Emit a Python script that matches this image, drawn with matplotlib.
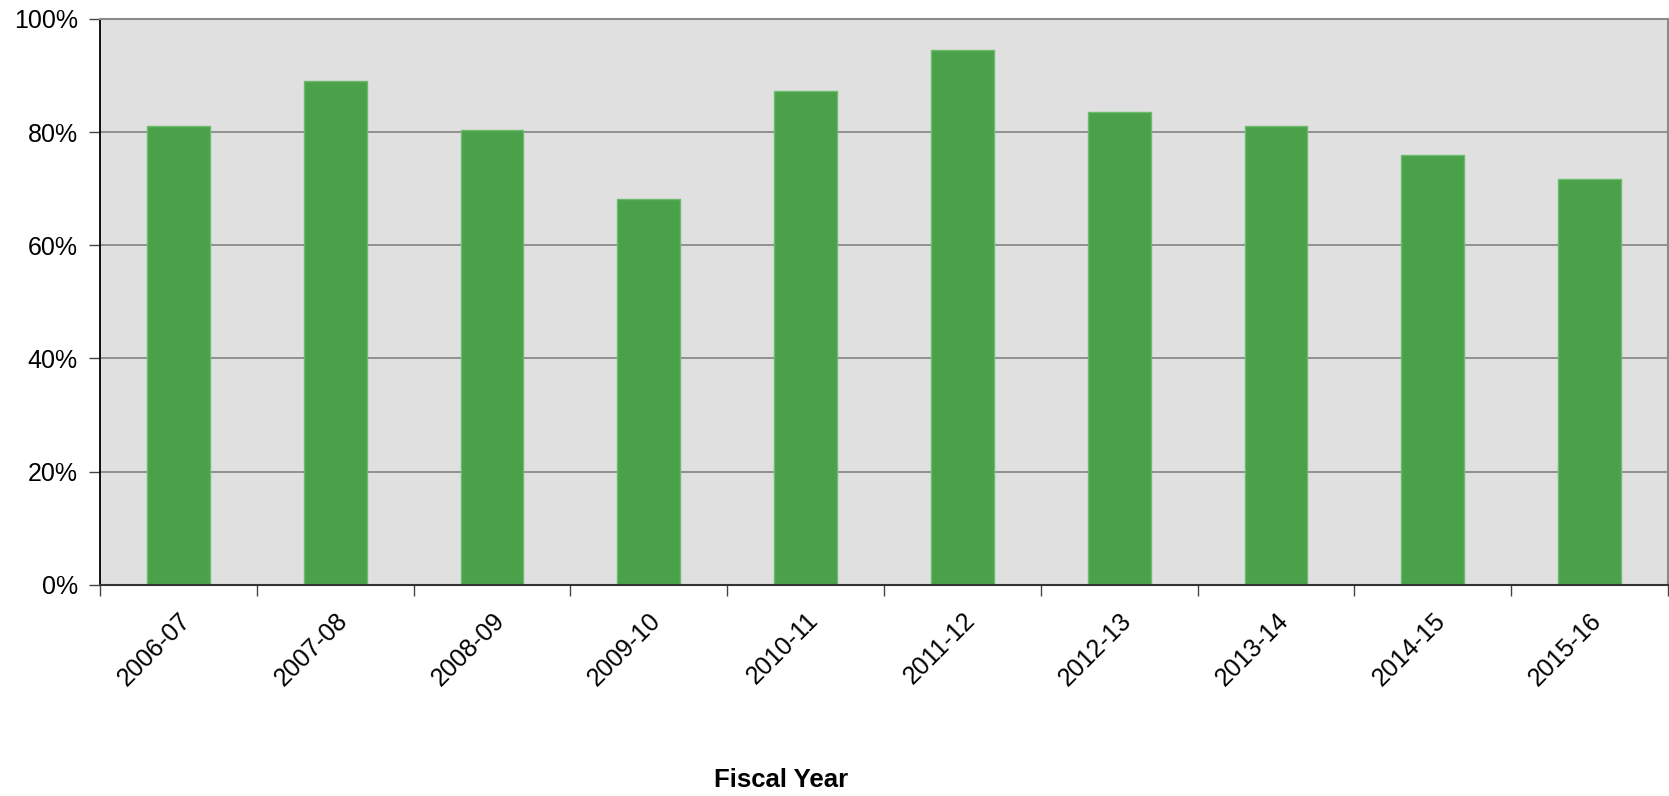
import matplotlib
matplotlib.use("Agg")
import matplotlib.pyplot as plt
from matplotlib.ticker import PercentFormatter, FixedLocator
import numpy as np

plt.rcParams['font.family'] = ['Liberation Sans', 'DejaVu Sans']

years = ["2006-07", "2007-08", "2008-09", "2009-10", "2010-11",
         "2011-12", "2012-13", "2013-14", "2014-15", "2015-16"]
values = [81.1, 89.1, 80.4, 68.1, 87.3, 94.6, 83.5, 81.1, 76.0, 71.7]
yticks = [0, 20, 40, 60, 80, 100]

fig = plt.figure(figsize=(16.69, 7.96), dpi=100)
ax = fig.add_axes([100/1669, 1-584.7/796, (1668-100)/1669, (584.7-19)/796])
ax.set_facecolor('#e0e0e0')

x = np.arange(len(years))
ax.bar(x, values, width=0.4, color='#4aa14a', edgecolor='#6dba6d', linewidth=1, zorder=3)

ax.set_xlim(-0.5, len(years) - 0.5)
ax.set_ylim(0, 100)
ax.set_yticks(yticks)
ax.yaxis.set_major_formatter(PercentFormatter(decimals=0))
ax.grid(axis='y', color='#8a8a8a', linewidth=1.3, zorder=1)

ax.set_xticks(x)
ax.set_xticklabels(years, rotation=45, ha='right', rotation_mode='anchor', fontsize=18)
ax.tick_params(axis='x', which='major', length=0, pad=17)
ax.xaxis.set_minor_locator(FixedLocator(np.arange(-0.5, len(years), 1.0)))
ax.tick_params(axis='x', which='minor', length=8, width=1, color='#444444', direction='out')
ax.tick_params(axis='y', length=8, width=1, color='#444444', labelsize=18, pad=8)

for s in ['top', 'right']:
    ax.spines[s].set_color('#8a8a8a')
    ax.spines[s].set_linewidth(1.5)
ax.spines['left'].set_color('#000000')
ax.spines['left'].set_linewidth(1.3)
ax.spines['bottom'].set_color('#333333')
ax.spines['bottom'].set_linewidth(1.5)
ax.spines['bottom'].set_zorder(4)

fig.text(781/1669, 1-780/796, "Fiscal Year", ha='center', va='center',
         fontsize=18.5, fontweight='bold')

fig.savefig("out.png", dpi=100)
